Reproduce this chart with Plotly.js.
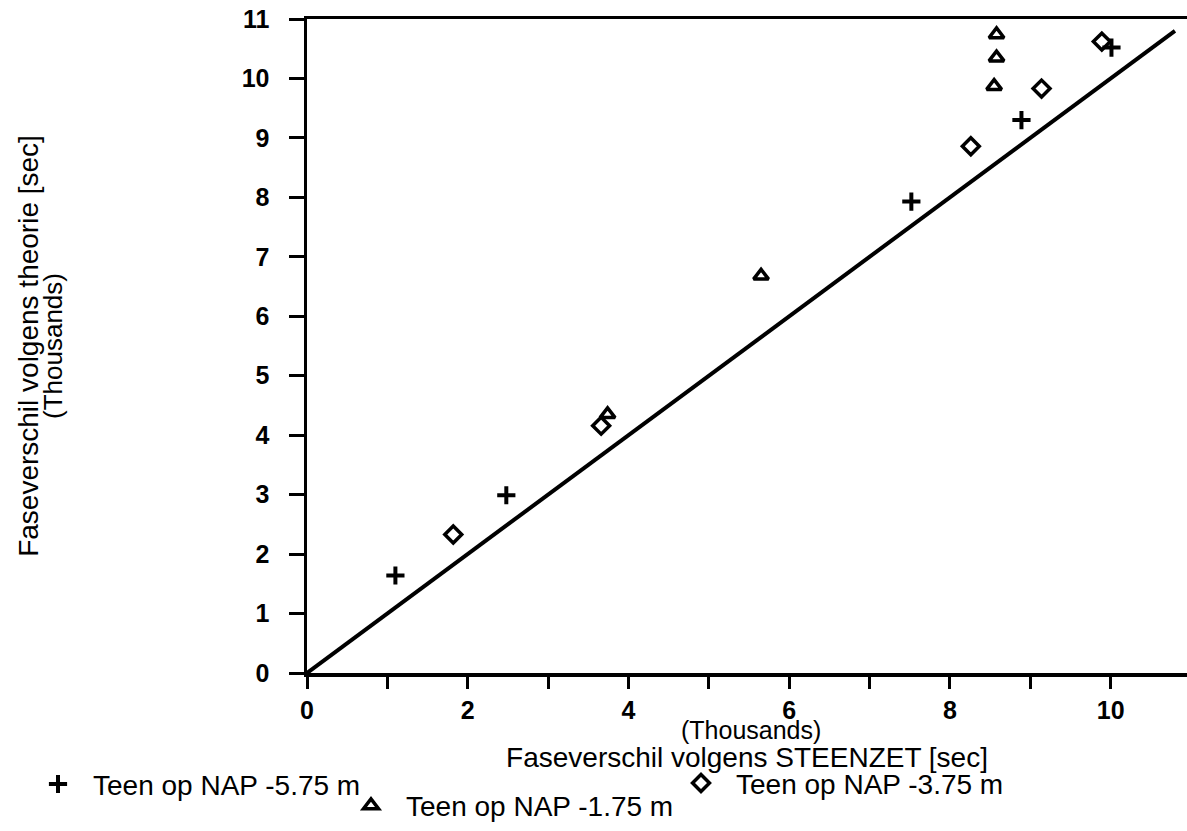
<!DOCTYPE html>
<html>
<head>
<meta charset="utf-8">
<script src="https://cdn.plot.ly/plotly-3.0.1.min.js"></script>
<style>html,body{margin:0;padding:0;background:#fff;}#chart{width:1187px;height:831px;}</style>
</head>
<body>
<div id="chart"></div>
<script>
// Series names
const seriesNames = ["Teen op NAP -5.75 m", "Teen op NAP -3.75 m", "Teen op NAP -1.75 m"];

// Values (thousands of seconds)
const plusX = [1.10, 2.48, 7.52, 8.89, 10.01];
const plusY = [1.64, 2.99, 7.93, 9.30, 10.52];

const diamondX = [1.82, 3.66, 8.26, 9.14, 9.89];
const diamondY = [2.33, 4.16, 8.86, 9.83, 10.62];

const triangleX = [3.74, 5.65, 8.55, 8.58, 8.58];
const triangleY = [4.35, 6.68, 9.87, 10.35, 10.74];

// 1:1 reference line
const refX = [0, 10.8];
const refY = [0, 10.8];

// Tick labels
const xTickVals = [0, 2, 4, 6, 8, 10];
const xTickText = ["0", "2", "4", "6", "8", "10"];
const xMinorVals = [1, 3, 5, 7, 9];
const yTickVals = [0, 1, 2, 3, 4, 5, 6, 7, 8, 9, 10, 11];
const yTickText = ["0", "1", "2", "3", "4", "5", "6", "7", "8", "9", "10", "11"];

const xTitle = "Faseverschil volgens STEENZET [sec]";
const yTitle = "Faseverschil volgens theorie [sec]";
const unitLabel = "(Thousands)";

const FONT = "Liberation Sans, Arial, Helvetica, sans-serif";

const traces = [
  {x: refX, y: refY, mode: "lines", line: {color: "black", width: 4}, showlegend: false, hoverinfo: "skip"},
  {x: plusX, y: plusY, name: seriesNames[0], mode: "markers", legend: "legend",
   marker: {symbol: "cross-thin", size: 13, color: "black", line: {color: "black", width: 4}}},
  {x: diamondX, y: diamondY, name: seriesNames[1], mode: "markers", legend: "legend2",
   marker: {symbol: "diamond-open", size: 13, color: "black", line: {color: "black", width: 3.5}}},
  {x: triangleX, y: triangleY, name: seriesNames[2], mode: "markers", legend: "legend3",
   marker: {symbol: "triangle-up-open", size: 13, color: "black", line: {color: "black", width: 3.5}}}
];

const legendBase = {xanchor: "left", yanchor: "middle", bgcolor: "rgba(0,0,0,0)", borderwidth: 0,
  itemwidth: 60, font: {family: FONT, size: 28, color: "black"}};

const layout = {
  width: 1187, height: 831,
  margin: {l: 307, r: 0, t: 19, b: 154, pad: 0},
  paper_bgcolor: "white", plot_bgcolor: "white",
  font: {family: FONT, color: "black"},
  xaxis: {
    range: [0, 10.95], showgrid: false, zeroline: false,
    showline: true, linecolor: "black", linewidth: 3.5, mirror: true,
    ticks: "outside", ticklen: 12, tickwidth: 3, tickcolor: "black",
    tickmode: "array", tickvals: xTickVals, ticktext: xTickText,
    ticklabelstandoff: 0,
    tickfont: {family: FONT, size: 25, weight: "bold", color: "black"},
    minor: {tickmode: "array", tickvals: xMinorVals, ticks: "outside", ticklen: 12, tickwidth: 3, tickcolor: "black", showgrid: false},
    title: {text: xTitle, font: {family: FONT, size: 28, color: "black"}, standoff: 26}
  },
  yaxis: {
    range: [0, 11], showgrid: false, zeroline: false,
    showline: true, linecolor: "black", linewidth: 3.5, mirror: false,
    ticks: "outside", ticklen: 15, tickwidth: 3, tickcolor: "black",
    tickmode: "array", tickvals: yTickVals, ticktext: yTickText,
    ticklabelstandoff: 14,
    tickfont: {family: FONT, size: 25, weight: "bold", color: "black"},
    title: {text: yTitle, font: {family: FONT, size: 28, color: "black"}, standoff: 196}
  },
  annotations: [
    {text: unitLabel, xref: "paper", yref: "paper", x: 0.505, y: (677 - 734) / 658,
     xanchor: "center", yanchor: "middle", showarrow: false, font: {family: FONT, size: 25, color: "black"}},
    {text: unitLabel, xref: "paper", yref: "paper", x: (53 - 307) / 880, y: 0.5, textangle: -90,
     xanchor: "center", yanchor: "middle", showarrow: false, font: {family: FONT, size: 26, color: "black"}}
  ],
  legend: Object.assign({}, legendBase, {x: (23 - 307) / 880, y: (677 - 789) / 658}),
  legend2: Object.assign({}, legendBase, {x: (666 - 307) / 880, y: (677 - 788) / 658}),
  legend3: Object.assign({}, legendBase, {x: (336 - 307) / 880, y: (677 - 810.5) / 658}),
  showlegend: true
};

Plotly.newPlot("chart", traces, layout, {staticPlot: true, displayModeBar: false});
</script>
</body>
</html>
